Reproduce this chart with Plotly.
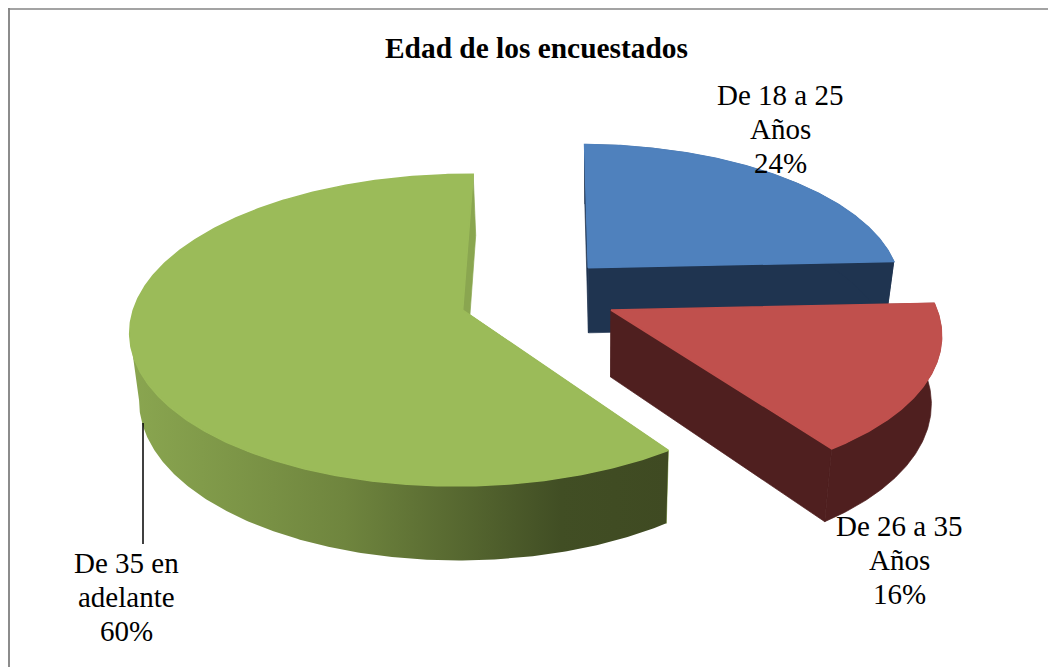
import numpy as np
import plotly.graph_objects as go

# --- DATA ---
title = "Edad de los encuestados"
categories = [["De 18 a 25", "Años"], ["De 26 a 35", "Años"], ["De 35 en", "adelante"]]
values = [24, 16, 60]

# --- STYLE ---
top_colors = ["#4f81bd", "#c0504d", "#9bbb59"]
side_colors = ["#1f3450", "#4f1f1f", "#8aa650"]
green_side_scale = [[0, "#8aa650"], [0.4, "#6f853e"], [0.8, "#414e24"], [1, "#3f4a22"]]
# exploded slice offset and radius, in pie units
offsets = [(0.245, 0.285), (0.305, 0.0), (-0.143, 0.0)]
radii = [0.965, 0.985, 0.995]
label_pos = [(780, 95), (899, 526), (126, 563)]
LINE_STEP = 34
serif = "Liberation Serif"
FONT_SIZE = 29
TITLE_SIZE = 29.4

# camera of the fake 3D pie
XC, YC, SX, SY, PERSP = 510, 310, 331, 154, 0.13
DEPTH = 67
START_DEG = 1.0

# the page body has an 8px margin, so the figure starts at 8,8
PAGE_OFFSET = 8


def project(x, y):
    w = 1 + PERSP * y
    return XC + SX * x / w, YC - SY * y / w


def lower(x, y, wy):
    # same point on the underside of the slice
    shift = np.where(x < 600, 0.02, 0.03) * (x - 600)
    return x - shift, y + DEPTH / (1 + 0.1 * wy)


def slice_parts(i):
    total = sum(values)
    a0 = START_DEG + 360 * sum(values[:i]) / total
    a1 = a0 + 360 * values[i] / total
    th = np.radians(np.linspace(a0, a1, int(a1 - a0) * 2 + 2))
    ox, oy = offsets[i]
    wx = ox + radii[i] * np.sin(th)
    wy = oy + radii[i] * np.cos(th)
    rx, ry = project(wx, wy)
    bx, by = lower(rx, ry, wy)
    ax, ay = project(ox, oy)
    abx, aby = lower(ax, ay, oy)
    return rx, ry, bx, by, ax, ay, float(abx), aby


def poly(xs, ys, color, width=0.7):
    # thin outline in the fill colour hides the seams between polygons
    return go.Scatter(x=xs, y=ys, mode="lines", fill="toself", fillcolor=color,
                      line=dict(width=width, color=color), hoverinfo="skip", showlegend=False)


fig = go.Figure()

# blue first, green next, red last so it sits in front of the blue wall
for i in [0, 2, 1]:
    rx, ry, bx, by, ax, ay, abx, aby = slice_parts(i)
    side = side_colors[i]
    # the two flat cut walls
    fig.add_trace(poly([ax, rx[0], bx[0], abx, ax], [ay, ry[0], by[0], aby, ay], side))
    fig.add_trace(poly([ax, rx[-1], bx[-1], abx, ax], [ay, ry[-1], by[-1], aby, ay], side))
    # the curved outer wall
    if i == 2:
        # only the front of the rim carries the gradient, from the leftmost point round
        front = (ry > YC) & (np.arange(len(ry)) <= np.argmin(rx))
        wall_x = np.concatenate([rx[front], bx[front][::-1], rx[front][:1]])
        wall_y = np.concatenate([ry[front], by[front][::-1], ry[front][:1]])
        fig.add_trace(go.Scatter(x=wall_x, y=wall_y, mode="lines", fill="toself",
                                 fillgradient=dict(type="horizontal", colorscale=green_side_scale),
                                 line=dict(width=0), hoverinfo="skip", showlegend=False))
    else:
        wall_x = np.concatenate([rx, bx[::-1], rx[:1]])
        wall_y = np.concatenate([ry, by[::-1], ry[:1]])
        fig.add_trace(poly(wall_x, wall_y, side))
    # top face
    fig.add_trace(poly(np.concatenate([[ax], rx, [ax]]), np.concatenate([[ay], ry, [ay]]),
                       top_colors[i], width=1.5))

font = dict(family=serif, size=FONT_SIZE, color="black")
annotations = [dict(x=536, y=48, text=f"<b>{title}</b>", showarrow=False,
                    font=dict(family=serif, size=TITLE_SIZE, color="black"))]
for cat, val, (lx, ly) in zip(categories, values, label_pos):
    # one annotation per line, the label leading is tighter than plotly's <br>
    for n, line in enumerate(cat + [f"{val}%"]):
        annotations.append(dict(x=lx, y=ly + n * LINE_STEP, text=line, showarrow=False, font=font))

shapes = [
    dict(type="line", x0=9, x1=9, y0=8, y1=667, line=dict(color="#8c8c8c", width=2)),
    dict(type="line", x0=8, x1=1056, y0=9, y1=9, line=dict(color="#858585", width=1.5)),
    # leader line of the green label
    dict(type="line", x0=143, x1=143, y0=423, y1=544, line=dict(color="black", width=1.5)),
]

fig.update_layout(
    width=1056 - PAGE_OFFSET, height=667 - PAGE_OFFSET,
    margin=dict(l=0, r=0, t=0, b=0),
    paper_bgcolor="white", plot_bgcolor="white",
    xaxis=dict(range=[PAGE_OFFSET, 1056], visible=False, fixedrange=True),
    yaxis=dict(range=[667, PAGE_OFFSET], visible=False, fixedrange=True),
    annotations=annotations, shapes=shapes, showlegend=False,
)

fig.write_html("out.html")
